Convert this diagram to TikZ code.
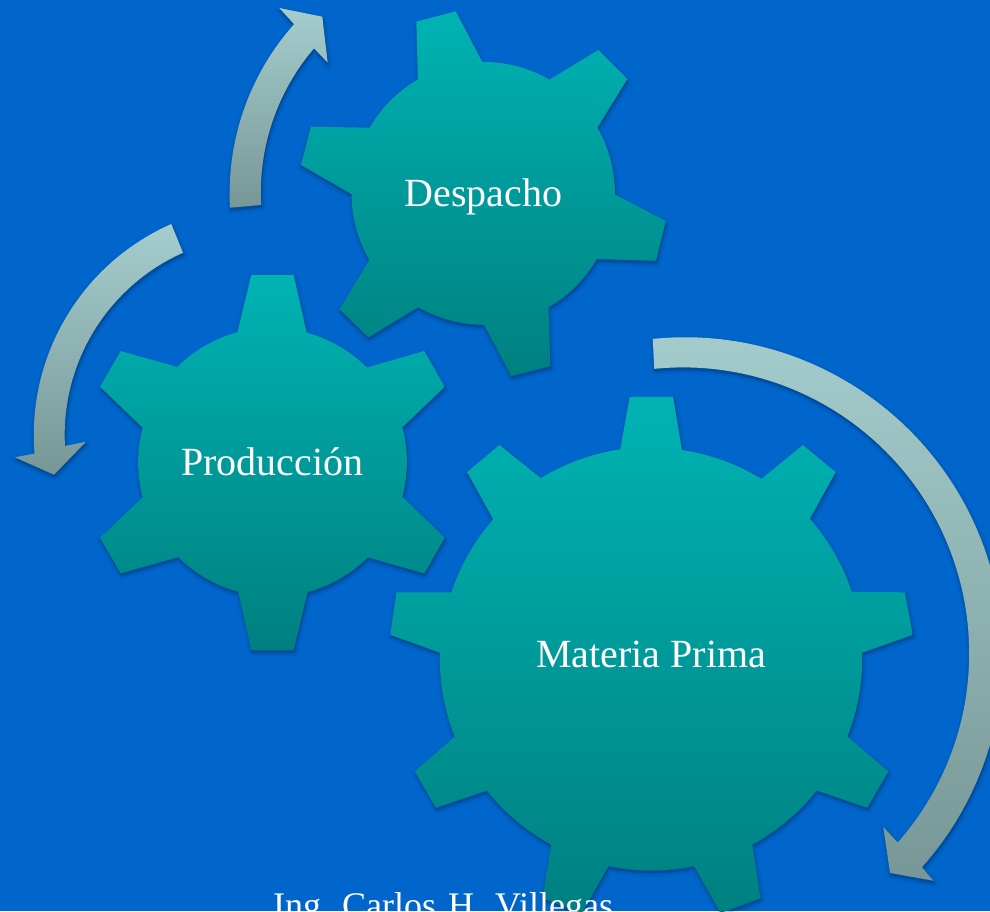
\documentclass[tikz,border=0pt]{standalone}
\usepackage{fontspec}
\setmainfont{Liberation Serif}
\definecolor{bgblue}{RGB}{0,102,204}
\definecolor{geartop}{RGB}{0,179,179}
\definecolor{gearbot}{RGB}{0,128,128}
\definecolor{arrtop}{RGB}{165,205,205}
\definecolor{arrmid}{RGB}{152,190,190}
\definecolor{arrbot}{RGB}{120,150,150}
\tikzset{
  gearfill/.style={top color=geartop,bottom color=gearbot,draw=none},
  arrowfill/.style={top color=arrtop,middle color=arrmid,bottom color=arrbot,draw=none},
  droplayer/.style={fill=black,draw=black,line join=round,opacity=#1},
  label40/.style={anchor=base,text=white,inner sep=0pt,font=\fontsize{40}{48}\selectfont},
  label36/.style={anchor=base west,text=white,inner sep=0pt,font=\fontsize{36}{43}\selectfont}
}
% #1 = style, #2 = path
\newcommand\softdrop[2]{%
  \begin{scope}[shift={(0.7,2.5)}]
    \path[droplayer=0.02,line width=9pt] #2;
    \path[droplayer=0.03,line width=6.5pt] #2;
    \path[droplayer=0.04,line width=4pt] #2;
    \path[droplayer=0.05,line width=1.5pt] #2;
  \end{scope}
  \path[#1] #2;
}
\begin{document}
\begin{tikzpicture}[x=1pt,y=-1pt]
\useasboundingbox (0,0) rectangle (990,911);
\clip (0,0) rectangle (990,911);
\fill[bgblue] (0,0) rectangle (990,911);

% Despacho gear
\softdrop{gearfill}{(416.3,21.7) -- (455.7,11.3) -- (482.3,62)
  arc (-90.6:-60:131.7) -- (598.3,50) -- (627.3,79) -- (597.3,127.7)
  arc (-30:0.4:131.7) -- (665.7,221) -- (656,260.7) -- (596.7,259)
  arc (30:60:131.7) -- (550.3,366) -- (511.3,376) -- (484,324.7)
  arc (90:120:131.7) -- (368.3,337.3) -- (339.7,309.3) -- (369.3,260)
  arc (150:180:131.7) -- (301,165) -- (311,126.7) -- (369.7,127.7)
  arc (210:240:131.7) -- cycle}

% Produccion gear
\softdrop{gearfill}{(251.3,275) -- (293.7,275) -- (306.7,332.7)
  arc (-75:-45:134.2) -- (424.3,351) -- (444.7,386.7) -- (402.3,427.3)
  arc (-15:15:134.2) -- (444.7,537.7) -- (424.3,573.3) -- (367.7,557.3)
  arc (45:75:134.2) -- (293.7,650) -- (251.3,650) -- (238.3,591.7)
  arc (105:135:134.2) -- (120.7,573.3) -- (100,537.7) -- (142.7,497.3)
  arc (165:195:134.2) -- (100,386.7) -- (120.7,351) -- (177.3,367)
  arc (225:255:134.2) -- cycle}

% Materia Prima gear
\softdrop{gearfill}{(629.7,396.9) -- (673.1,396.9) -- (682,450.1)
  arc (-81.6:-58.5:211) -- (802.9,445) -- (835.6,472.1) -- (809.8,518.8)
  arc (-41.4:-18.4:211) -- (904.8,592.3) -- (912.8,634.7) -- (862.1,652.6)
  arc (-1.7:21.6:211) -- (888.3,771.5) -- (867.3,807.7) -- (816.7,790.4)
  arc (38.5:61.5:211) -- (760.5,898.1) -- (720.5,913) -- (694.1,866)
  arc (78.3:101.7:211) -- (581.9,913) -- (542.6,898.1) -- (551.2,844.6)
  arc (118.5:141.5:211) -- (435.8,807.7) -- (414.8,771.5) -- (454.7,736.6)
  arc (158.4:181.7:211) -- (390.3,634.7) -- (396.5,592.3) -- (451.3,592.3)
  arc (198.4:221.4:211) -- (467.1,472.1) -- (499.5,445) -- (540.8,478.2)
  arc (238.5:261.6:211) -- cycle}

% Arrows
\softdrop{arrowfill}{(230,207.7) arc (176.8:221.7:254.5) -- (279.3,8) -- (322.3,16.7) -- (327.7,62.7) -- (314,48.3)
  arc (220.5:176.8:222) -- cycle}
\softdrop{arrowfill}{(171.3,224) arc (246.2:175.4:230.6) -- (15,457.3) -- (54,474.7) -- (86,441.7) -- (65,446)
  arc (176.8:246:199.4) -- cycle}
\softdrop{arrowfill}{(652.7,338.9) arc (-95.8:41.8:318) -- (933.3,880.7) -- (890,872.9) -- (883.3,827.1) -- (897.7,842.5)
  arc (41.4:-95.8:286) -- cycle}

% Labels
\node[label40] (despacho) at (483.5,206) {Despacho};
\node[label40] (produccion) at (272.5,475) {Producción};
\node[label40] (materia) at (651,667) {Materia Prima};
\node[label36] (autor) at (273,917) {Ing.\hspace{12pt}Carlos\hspace{12pt}H.\hspace{12pt}Villegas};
\end{tikzpicture}
\end{document}
